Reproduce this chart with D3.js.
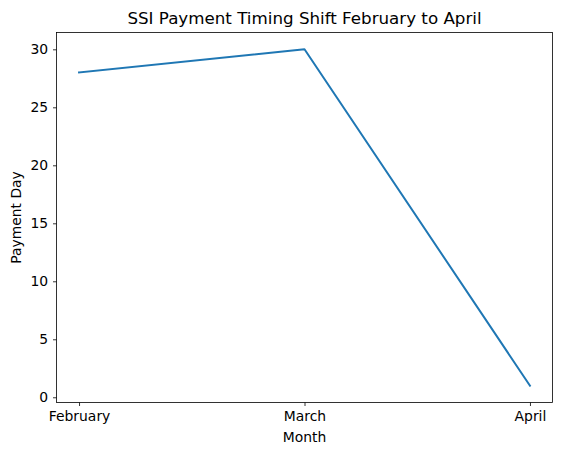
<!DOCTYPE html>
<html><head><meta charset="utf-8">
<script src="https://cdn.jsdelivr.net/npm/d3@7"></script>
<style>body{margin:0;background:#fff}svg{display:block}text{font-family:"DejaVu Sans",sans-serif;fill:#000}</style>
</head><body>
<svg id="c" width="562" height="455"></svg>
<script>
const months = ["February", "March", "April"];
const paymentDay = [28, 30, 1];
const yTicks = [0, 5, 10, 15, 20, 25, 30];
const title = "SSI Payment Timing Shift February to April";
const xLabel = "Month";
const yLabel = "Payment Day";

const svg = d3.select("#c");
const L = 56.5, R = 552.5, T = 32.5, B = 402.5;
const x = d3.scaleLinear().domain([-0.1, 2.1]).range([L, R]);
const y = d3.scaleLinear().domain([-0.45, 31.45]).range([B, T]);

const xAxis = d3.axisBottom(x).tickValues([0,1,2]).tickFormat(i => months[i]).tickSize(3.5).tickPadding(4.9);
const yAxis = d3.axisLeft(y).tickValues(yTicks).tickSize(3.5).tickPadding(4.9);

const gx = svg.append("g").attr("transform", `translate(0,${B})`).call(xAxis);
const gy = svg.append("g").attr("transform", `translate(${L},0)`).call(yAxis);
[gx, gy].forEach(g => {
  g.select(".domain").remove();
  g.selectAll("text").style("font-size", "13.9px").attr("fill", "#000").style("font-family", "DejaVu Sans");
  g.selectAll("line").attr("stroke", "#000").attr("stroke-width", 0.8);
});

const line = d3.line().x((d, i) => x(i)).y(d => y(d));
svg.append("path").datum(paymentDay).attr("d", line)
  .attr("fill", "none").attr("stroke", "#1f77b4").attr("stroke-width", 2).attr("stroke-linejoin", "round").attr("stroke-linecap", "square");

svg.append("rect").attr("x", L).attr("y", T).attr("width", R - L).attr("height", B - T)
  .attr("fill", "none").attr("stroke", "#000").attr("stroke-width", 0.8);

svg.append("text").attr("x", (L + R) / 2).attr("y", T - 9).attr("text-anchor", "middle")
  .style("font-size", "16.7px").text(title);
svg.append("text").attr("x", (L + R) / 2).attr("y", 442).attr("text-anchor", "middle")
  .style("font-size", "13.9px").text(xLabel);
svg.append("text").attr("transform", `translate(21,${(T + B) / 2}) rotate(-90)`).attr("text-anchor", "middle")
  .style("font-size", "13.9px").text(yLabel);
</script>
</body></html>
